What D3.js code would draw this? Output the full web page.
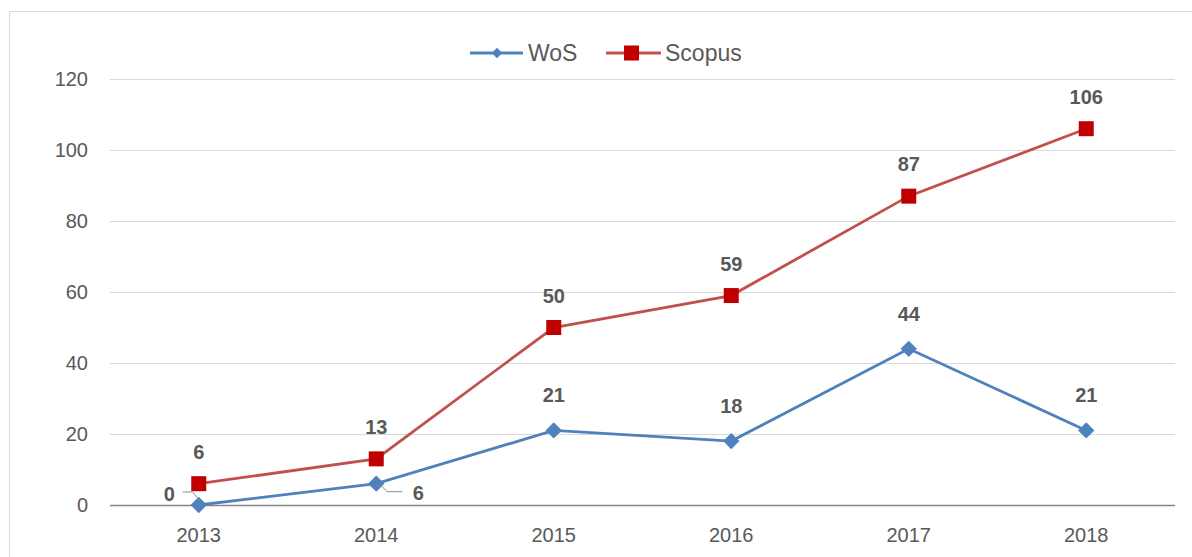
<!DOCTYPE html>
<html>
<head>
<script src="https://d3js.org/d3.v7.min.js"></script>
<style>
  body { margin: 0; background: #fff; }
  text { font-family: "Liberation Sans", Arial, sans-serif; }
</style>
</head>
<body>
<script>
// chart values
var years = ["2013", "2014", "2015", "2016", "2017", "2018"];
var wos = [0, 6, 21, 18, 44, 21];
var scopus = [6, 13, 50, 59, 87, 106];
var yTicks = [0, 20, 40, 60, 80, 100, 120];

var W = 1192, H = 557;
var margin = {top: 79, right: 17, bottom: 52, left: 110};
var width = W - margin.left - margin.right,
    height = H - margin.top - margin.bottom;

var svg = d3.select("body").append("svg")
    .attr("width", W)
    .attr("height", H);

// outer chart border (cropped)
svg.append("path")
    .attr("d", "M9.5," + H + " V11.5 H" + W)
    .attr("fill", "none")
    .attr("stroke", "#d9d9d9");

var g = svg.append("g")
    .attr("transform", "translate(" + margin.left + "," + margin.top + ")");

var x = d3.scaleBand().domain(years).range([0, width]);
var y = d3.scaleLinear().domain([0, 120]).range([height, 0]);
var cx = d => x(d) + x.bandwidth() / 2;

// gridlines
g.selectAll(".grid")
    .data(yTicks.filter(d => d > 0))
  .enter().append("line")
    .attr("x1", 0).attr("x2", width)
    .attr("y1", d => Math.round(y(d)) + 0.5)
    .attr("y2", d => Math.round(y(d)) + 0.5)
    .attr("stroke", "#d9d9d9")
    .attr("stroke-width", 1);

// y axis labels
g.selectAll(".ylab")
    .data(yTicks)
  .enter().append("text")
    .attr("x", -22)
    .attr("y", d => y(d))
    .attr("dy", "0.36em")
    .attr("text-anchor", "end")
    .attr("fill", "#595959")
    .style("font-size", "20px")
    .text(d => d);

// x axis
g.append("line")
    .attr("x1", 0).attr("x2", width)
    .attr("y1", height + 0.5).attr("y2", height + 0.5)
    .attr("stroke", "#868686")
    .attr("stroke-width", 1.3);

g.selectAll(".xlab")
    .data(years)
  .enter().append("text")
    .attr("x", d => cx(d))
    .attr("y", height + 37)
    .attr("text-anchor", "middle")
    .attr("fill", "#595959")
    .style("font-size", "20px")
    .text(d => d);

var line = d3.line()
    .x(d => cx(d.year))
    .y(d => y(d.v));

var scopusData = years.map((yr, i) => ({year: yr, v: scopus[i]}));
var wosData = years.map((yr, i) => ({year: yr, v: wos[i]}));

// Scopus
g.append("path")
    .datum(scopusData)
    .attr("d", line)
    .attr("fill", "none")
    .attr("stroke", "#c0504d")
    .attr("stroke-width", 2.8);
g.selectAll(".sq")
    .data(scopusData)
  .enter().append("rect")
    .attr("x", d => cx(d.year) - 7.5)
    .attr("y", d => y(d.v) - 7.5)
    .attr("width", 15).attr("height", 15)
    .attr("fill", "#c00000");

// WoS
g.append("path")
    .datum(wosData)
    .attr("d", line)
    .attr("fill", "none")
    .attr("stroke", "#4f81bd")
    .attr("stroke-width", 2.8);
var diamond = d3.symbol().type(d3.symbolDiamond2).size(170);
g.selectAll(".dm")
    .data(wosData)
  .enter().append("path")
    .attr("d", diamond)
    .attr("transform", d => "translate(" + cx(d.year) + "," + y(d.v) + ")")
    .attr("fill", "#4f81bd");

// data labels
function label(d, dx, dy, anchor) {
  g.append("text")
    .attr("x", cx(d.year) + dx)
    .attr("y", y(d.v) + dy)
    .attr("text-anchor", anchor)
    .attr("fill", "#595959")
    .style("font-size", "20px")
    .style("font-weight", "bold")
    .text(d.v);
}
scopusData.forEach(d => label(d, 0, -25, "middle"));
wosData.forEach((d, i) => {
  if (i === 0) label(d, -24, -4, "end");
  else if (i === 1) label(d, 42, 16, "middle");
  else label(d, 0, -28, "middle");
});

// leader lines
var p0 = wosData[0], p1 = wosData[1];
g.append("polyline")
    .attr("points", [[cx(p0.year) - 16, y(p0.v) - 13], [cx(p0.year) - 6, y(p0.v) - 13], [cx(p0.year) + 1, y(p0.v) - 4]].join(" "))
    .attr("fill", "none").attr("stroke", "#8c8c8c").attr("stroke-width", 1);
g.append("polyline")
    .attr("points", [[cx(p1.year) + 4, y(p1.v) + 1], [cx(p1.year) + 11, y(p1.v) + 8], [cx(p1.year) + 26, y(p1.v) + 8]].join(" "))
    .attr("fill", "none").attr("stroke", "#8c8c8c").attr("stroke-width", 1);

// legend
var legend = svg.append("g").attr("transform", "translate(470,53)");
legend.append("line").attr("x1", 0).attr("x2", 53).attr("y1", 0).attr("y2", 0)
    .attr("stroke", "#4f81bd").attr("stroke-width", 2.8);
legend.append("path").attr("d", d3.symbol().type(d3.symbolDiamond2).size(70))
    .attr("transform", "translate(27,0)")
    .attr("fill", "#4f81bd");
legend.append("text").attr("x", 58).attr("y", 0).attr("dy", "0.36em")
    .attr("fill", "#595959").style("font-size", "23px").text("WoS");
legend.append("line").attr("x1", 136).attr("x2", 191).attr("y1", 0).attr("y2", 0)
    .attr("stroke", "#c0504d").attr("stroke-width", 2.8);
legend.append("rect").attr("x", 154).attr("y", -7.5).attr("width", 15).attr("height", 15)
    .attr("fill", "#c00000");
legend.append("text").attr("x", 195).attr("y", 0).attr("dy", "0.36em")
    .attr("fill", "#595959").style("font-size", "23px").text("Scopus");
</script>
</body>
</html>
